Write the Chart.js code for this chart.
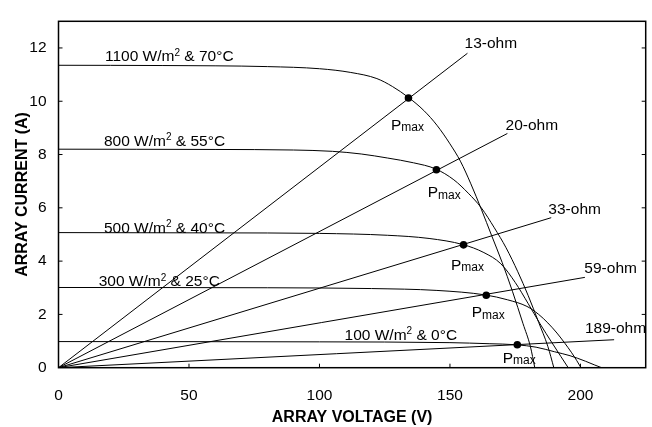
<!DOCTYPE html>
<html><head><meta charset="utf-8">
<script src="https://cdn.jsdelivr.net/npm/chart.js@4/dist/chart.umd.min.js"></script>
<style>html,body{margin:0;padding:0;background:#fff}</style>
</head><body>
<canvas id="c" width="652" height="427"></canvas>
<script>
// ---- data ----
const xTickValues = [0, 50, 100, 150, 200];
const yTickValues = [0, 2, 4, 6, 8, 10, 12];

// I-V curves (voltage V, current A)
const v1100 = [0, 40, 80, 100, 112, 122, 128, 134, 140, 145, 150, 154, 158, 162, 166, 170, 174, 178, 180.8, 182.5];
const i1100 = [11.35, 11.34, 11.3, 11.22, 11.08, 10.85, 10.55, 10.15, 9.65, 9.1, 8.4, 7.75, 6.9, 5.95, 4.95, 3.95, 2.85, 1.65, 0.8, 0];
const v800 = [0, 60, 90, 105, 116, 126, 136, 144.5, 151.5, 157, 162, 167, 171.5, 176, 180, 184, 187.5, 189.8];
const i800 = [8.2, 8.19, 8.17, 8.12, 8.02, 7.87, 7.69, 7.46, 7.05, 6.55, 6.0, 5.25, 4.5, 3.6, 2.7, 1.7, 0.8, 0];
const v500 = [0, 60, 100, 126, 142, 155, 163, 169.5, 175, 180, 184.5, 189, 192.5, 195.3];
const i500 = [5.07, 5.06, 5.04, 4.97, 4.85, 4.62, 4.32, 3.9, 3.2, 2.4, 1.65, 0.95, 0.42, 0];
const v300 = [0, 80, 120, 145, 163.6, 172, 179.5, 184, 187.5, 191, 194, 196.5, 198.5, 200.2];
const i300 = [3.01, 3.0, 2.97, 2.9, 2.73, 2.55, 2.3, 2.0, 1.68, 1.3, 0.92, 0.58, 0.28, 0];
const v100 = [0, 100, 150, 165, 175.5, 183, 190, 196, 202, 205.5, 208.1];
const i100 = [0.98, 0.97, 0.94, 0.9, 0.86, 0.77, 0.6, 0.45, 0.24, 0.1, 0];

// load lines: from origin to these end points
const loadNames = ['13-ohm', '20-ohm', '33-ohm', '59-ohm', '189-ohm'];
const loadEndV = [156.7, 172, 188.8, 201.7, 212.9];
const loadEndI = [11.8, 8.79, 5.63, 3.39, 1.05];

// maximum power points
const pmaxV = [134.1, 144.8, 155.2, 163.9, 175.8];
const pmaxI = [10.12, 7.43, 4.61, 2.72, 0.86];

// curve labels: [prefix, superscript, suffix], anchored at (V, I)
const curveLabelPre = ['1100 W/m', '800 W/m', '500 W/m', '300 W/m', '100 W/m'];
const curveLabelSup = ['2', '2', '2', '2', '2'];
const curveLabelPost = [' & 70°C', ' & 55°C', ' & 40°C', ' & 25°C', ' & 0°C'];
const curveLabelV = [17.8, 17.4, 17.4, 15.4, 109.6];
const curveLabelI = [11.5, 8.33, 5.07, 3.05, 1.05];

const loadLabelV = [155.6, 171.3, 187.7, 201.5, 201.7];
const loadLabelI = [12.0, 8.93, 5.78, 3.54, 1.31];

const pmaxLabelV = [127.4, 141.5, 150.4, 158.3, 170.2];
const pmaxLabelI = [8.93, 6.39, 3.67, 1.89, 0.18];

// ---- build ----
const FONT = "'Liberation Sans', Arial, sans-serif";
const xy = (vs, is) => vs.map((v, k) => ({x: v, y: is[k]}));
const curveStyle = {showLine: true, pointRadius: 0, borderColor: '#000', borderWidth: 1, cubicInterpolationMode: 'monotone', fill: false};

const datasets = [
  {...curveStyle, data: xy(v1100, i1100)},
  {...curveStyle, data: xy(v800, i800)},
  {...curveStyle, data: xy(v500, i500)},
  {...curveStyle, data: xy(v300, i300)},
  {...curveStyle, data: xy(v100, i100)},
];
loadEndV.forEach((v, k) => datasets.push({showLine: true, pointRadius: 0, borderColor: '#000', borderWidth: 1, tension: 0, data: [{x: 0, y: 0}, {x: v, y: loadEndI[k]}]}));
datasets.push({showLine: false, pointRadius: 3.8, pointBackgroundColor: '#000', pointBorderColor: '#000', borderWidth: 0, data: xy(pmaxV, pmaxI)});

const annot = {
  id: 'annot',
  afterDatasetsDraw(chart) {
    const {ctx, chartArea: a, scales: {x, y}} = chart;
    ctx.save();
    ctx.strokeStyle = '#000';
    ctx.lineWidth = 1.5;
    ctx.strokeRect(a.left, a.top, a.right - a.left, a.bottom - a.top);
    ctx.lineWidth = 1;
    ctx.beginPath();
    xTickValues.forEach(v => { if (v === 0) return; const px = x.getPixelForValue(v); ctx.moveTo(px, a.bottom); ctx.lineTo(px, a.bottom - 4); });
    yTickValues.forEach(v => { if (v === 0) return; const py = y.getPixelForValue(v); ctx.moveTo(a.left, py); ctx.lineTo(a.left + 4, py); ctx.moveTo(a.right, py); ctx.lineTo(a.right - 4, py); });
    ctx.stroke();

    ctx.fillStyle = '#000';
    ctx.textBaseline = 'alphabetic';
    ctx.textAlign = 'left';
    curveLabelPre.forEach((t, k) => {
      let px = x.getPixelForValue(curveLabelV[k]);
      const py = y.getPixelForValue(curveLabelI[k]);
      ctx.font = '15.5px ' + FONT;
      ctx.fillText(t, px, py); px += ctx.measureText(t).width;
      ctx.font = '10px ' + FONT;
      ctx.fillText(curveLabelSup[k], px, py - 5.5); px += ctx.measureText(curveLabelSup[k]).width;
      ctx.font = '15.5px ' + FONT;
      ctx.fillText(curveLabelPost[k], px, py);
    });
    loadNames.forEach((t, k) => {
      ctx.font = '15.5px ' + FONT;
      ctx.fillText(t, x.getPixelForValue(loadLabelV[k]), y.getPixelForValue(loadLabelI[k]));
    });
    pmaxLabelV.forEach((v, k) => {
      let px = x.getPixelForValue(v);
      const py = y.getPixelForValue(pmaxLabelI[k]);
      ctx.font = '15.5px ' + FONT;
      ctx.fillText('P', px, py); px += ctx.measureText('P').width;
      ctx.font = '12px ' + FONT;
      ctx.fillText('max', px, py + 1.5);
    });
    ctx.restore();
  }
};

new Chart(document.getElementById('c'), {
  type: 'scatter',
  data: {datasets},
  plugins: [annot],
  options: {
    responsive: false,
    animation: false,
    devicePixelRatio: 1,
    layout: {padding: {top: 7.3, right: 6.3, left: 0, bottom: 0}},
    plugins: {legend: {display: false}, tooltip: {enabled: false}},
    scales: {
      x: {
        type: 'linear', min: 0, max: 225,
        afterBuildTicks: s => { s.ticks = xTickValues.map(v => ({value: v})); },
        afterFit: s => { s.height = 59.3; },
        grid: {display: false, drawTicks: false},
        border: {display: false},
        ticks: {color: '#000', font: {family: FONT, size: 15.5}, padding: 18.5, maxRotation: 0},
        title: {display: true, text: 'ARRAY VOLTAGE (V)', color: '#000', font: {family: FONT, size: 16, weight: 'bold'}, padding: {top: 0, bottom: 0}}
      },
      y: {
        type: 'linear', min: 0, max: 13,
        afterBuildTicks: s => { s.ticks = yTickValues.map(v => ({value: v})); },
        afterFit: s => { s.width = 58.5; },
        grid: {display: false, drawTicks: false},
        border: {display: false},
        ticks: {color: '#000', font: {family: FONT, size: 15.5}, padding: 12},
        title: {display: true, text: 'ARRAY CURRENT (A)', color: '#000', font: {family: FONT, size: 16, weight: 'bold'}, padding: {top: 13, bottom: 0}}
      }
    }
  }
});
</script>
</body></html>
